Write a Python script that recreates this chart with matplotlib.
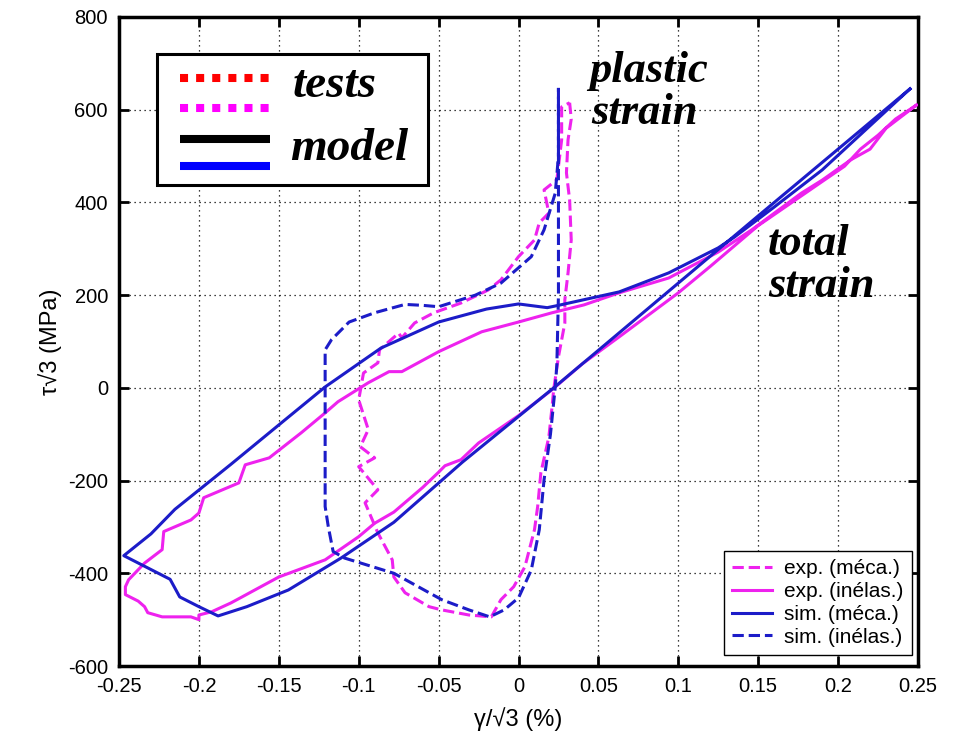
import matplotlib
matplotlib.use("Agg")
import matplotlib.pyplot as plt
from matplotlib.lines import Line2D
from matplotlib.patches import Rectangle
from matplotlib.transforms import Affine2D

# ---- data: shear stress vs. shear strain loops ----
# simulated total (mechanical) strain loop
sim_total_x = [0.245, 0.20, 0.15, 0.10, 0.05, 0.022, -0.035, -0.078, -0.111, -0.144,
               -0.170, -0.188, -0.200, -0.212, -0.218, -0.247, -0.230, -0.215, -0.180,
               -0.150, -0.121, -0.086, -0.050, -0.020, 0.0, 0.018, 0.025, 0.063, 0.094,
               0.125, 0.135, 0.160, 0.190, 0.245]
sim_total_y = [645, 515, 371, 226, 81, 0, -160, -290, -367, -436,
               -472, -492, -472, -451, -413, -362, -315, -262, -165,
               -80, 2, 86, 142, 170, 181, 173, 178, 207, 248,
               302, 325, 390, 470, 645]

# experimental total strain loop
exp_total_x = [0.249, 0.236, 0.225, 0.214, 0.204, 0.19, 0.15, 0.12, 0.10, 0.063, 0.04,
               0.021, 0.0, -0.025, -0.036, -0.046, -0.050, -0.060, -0.078, -0.090,
               -0.100, -0.121, -0.150, -0.165, -0.173, -0.180, -0.192, -0.200, -0.200,
               -0.205, -0.223, -0.232, -0.234, -0.238, -0.246, -0.246, -0.244, -0.234,
               -0.223, -0.222, -0.205, -0.200, -0.197, -0.175, -0.171, -0.156, -0.136,
               -0.121, -0.113, -0.094, -0.081, -0.073, -0.050, -0.023, 0.0, 0.021, 0.041,
               0.063, 0.094, 0.125, 0.146, 0.177, 0.190, 0.208, 0.220, 0.230, 0.249]
exp_total_y = [610, 580, 545, 515, 478, 445, 350, 262, 205, 110, 52,
               -4, -60, -119, -155, -168, -182, -215, -268, -292,
               -321, -371, -408, -436, -451, -464, -483, -490, -500,
               -494, -494, -485, -472, -460, -446, -429, -414, -378,
               -349, -310, -285, -270, -237, -205, -166, -151, -97,
               -54, -30, 11, 35, 35, 78, 121, 142, 162, 179,
               205, 237, 293, 341, 420, 448, 492, 515, 560, 610]

# experimental plastic (inelastic) strain loop
exp_plastic_x = [0.032, 0.033, 0.031, 0.030, 0.032, 0.033, 0.031, 0.029, 0.029, 0.025,
                 0.022, 0.021, 0.019, 0.014, 0.012, 0.010, 0.004, -0.003, -0.011,
                 -0.017, -0.031, -0.048, -0.056, -0.071, -0.078, -0.079, -0.088, -0.096,
                 -0.088, -0.100, -0.090, -0.099, -0.094, -0.100, -0.097, -0.088, -0.087,
                 -0.075, -0.073, -0.065, -0.053, -0.036, -0.019, -0.011, 0.0, 0.010,
                 0.013, 0.019, 0.016, 0.024, 0.027, 0.027, 0.032]
exp_plastic_y = [615, 580, 535, 464, 405, 319, 248, 190, 140, 67,
                 -4, -41, -106, -183, -256, -306, -386, -429, -457,
                 -494, -490, -479, -472, -442, -408, -371, -313, -248,
                 -220, -170, -151, -127, -90, -26, 32, 54, 82,
                 118, 108, 140, 162, 183, 211, 233, 283, 319,
                 356, 377, 427, 449, 535, 606, 615]

# simulated plastic (inelastic) strain loop
sim_plastic_x = [0.025, 0.025, 0.025, 0.024, 0.023, 0.020, 0.016, 0.013, 0.008, 0.0,
                 -0.009, -0.018, -0.031, -0.048, -0.078, -0.109, -0.116, -0.119, -0.121,
                 -0.121, -0.121, -0.117, -0.106, -0.090, -0.071, -0.060, -0.050, -0.027,
                 -0.011, 0.008, 0.016, 0.023, 0.025, 0.025]
sim_plastic_y = [647, 400, 200, 50, 2, -100, -198, -306, -393, -453,
                 -479, -494, -479, -457, -400, -367, -353, -300, -256,
                 17, 82, 104, 142, 162, 180, 178, 175, 200,
                 226, 283, 341, 420, 500, 647]

x_ticks = [-0.25, -0.2, -0.15, -0.1, -0.05, 0, 0.05, 0.1, 0.15, 0.2, 0.25]
x_tick_labels = ["-0.25", "-0.2", "-0.15", "-0.1", "-0.05", "0", "0.05", "0.1", "0.15", "0.2", "0.25"]
y_ticks = [-600, -400, -200, 0, 200, 400, 600, 800]
y_tick_labels = ["-600", "-400", "-200", "0", "200", "400", "600", "800"]

legend_labels = ["exp. (méca.)", "exp. (inélas.)", "sim. (méca.)", "sim. (inélas.)"]

MAGENTA = "#ee22ee"
BLUE = "#1c1cc8"
SANS = ["Liberation Sans", "DejaVu Sans"]
SERIF = ["Liberation Serif", "DejaVu Serif"]

W, H = 955, 744
fig = plt.figure(figsize=(W / 100, H / 100), dpi=100)
ax = fig.add_axes([119 / W, 1 - 666 / H, (918 - 119) / W, (666 - 17) / H])

# pixel coordinates measured from the top-left corner of the figure
px = Affine2D().scale(1 / W, -1 / H).translate(0, 1) + fig.transFigure

lw = 2.2
h_exp_meca, = ax.plot(exp_plastic_x, exp_plastic_y, color=MAGENTA, lw=lw, ls="--", zorder=3)
h_exp_inel, = ax.plot(exp_total_x, exp_total_y, color=MAGENTA, lw=lw, ls="-", zorder=3)
h_sim_meca, = ax.plot(sim_total_x, sim_total_y, color=BLUE, lw=lw, ls="-", zorder=4)
h_sim_inel, = ax.plot(sim_plastic_x, sim_plastic_y, color=BLUE, lw=lw, ls="--", zorder=4)

ax.set_xlim(-0.25, 0.25)
ax.set_ylim(-600, 800)
ax.set_xticks(x_ticks)
ax.set_xticklabels(x_tick_labels)
ax.set_yticks(y_ticks)
ax.set_yticklabels(y_tick_labels)
ax.grid(True, color="black", ls=(0, (1, 3)), lw=0.9)
ax.tick_params(direction="in", length=7, width=2, top=True, right=True,
               labelsize=14.5, pad=8)
for lab in ax.get_xticklabels() + ax.get_yticklabels():
    lab.set_family(SANS)
for sp in ax.spines.values():
    sp.set_linewidth(2.5)

ax.set_xlabel("γ/√3 (%)", family=SANS, fontsize=17, labelpad=8)
ax.set_ylabel("τ√3 (MPa)", family=SANS, fontsize=17, labelpad=4)

leg = ax.legend([h_exp_meca, h_exp_inel, h_sim_meca, h_sim_inel], legend_labels,
                loc="lower right", bbox_to_anchor=(0.9925, 0.017), borderaxespad=0,
                prop={"family": SANS, "size": 15}, handlelength=1.9, handletextpad=0.6,
                labelspacing=0.18, borderpad=0.4, fancybox=False, framealpha=1,
                edgecolor="black")
leg.get_frame().set_linewidth(1.0)
leg.set_zorder(10)

# upper-left key box
fig.add_artist(Rectangle((157, 54), 271, 131, transform=px, facecolor="white",
                         edgecolor="black", lw=2.2, zorder=5))
key_rows = [(78, "red", (0, (1, 1))), (108, "#ff00ff", (0, (1, 1))),
            (139, "black", "-"), (166, "#0000ff", "-")]
for y, c, ls in key_rows:
    fig.add_artist(Line2D([180, 270], [y, y], transform=px, color=c, lw=5.8, ls=ls,
                          dash_capstyle="butt", solid_capstyle="butt", zorder=6))

serif_kw = dict(transform=px, family=SERIF, fontweight="bold", style="italic",
                fontsize=34, va="baseline", ha="left", zorder=7)
fig.text(293, 97, "tests", **serif_kw)
fig.text(290, 160, "model", **serif_kw)

note_kw = dict(serif_kw, fontsize=32)
fig.text(589, 82, "plastic", **note_kw)
fig.text(591, 124, "strain", **note_kw)
fig.text(768, 255, "total", **note_kw)
fig.text(768, 297, "strain", **note_kw)

fig.savefig("out.png", dpi=100)
